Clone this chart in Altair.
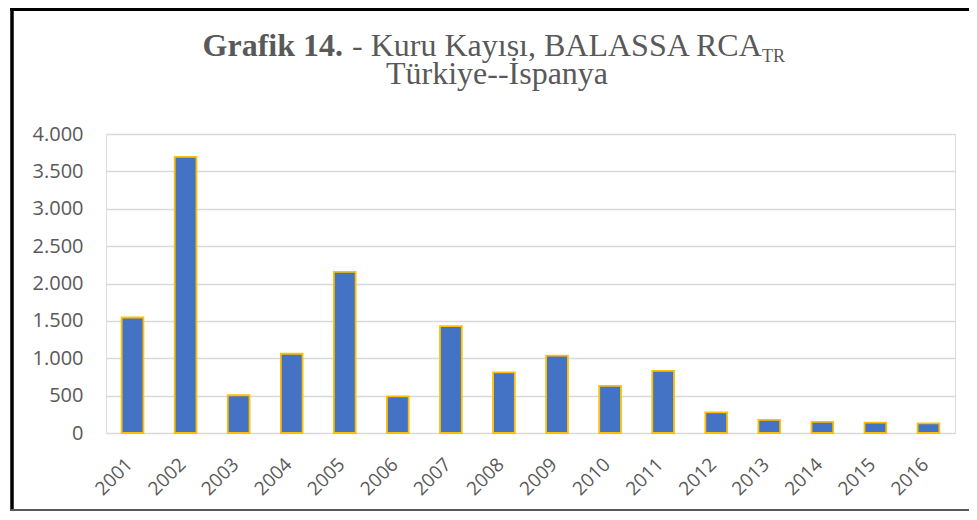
import altair as alt
import pandas as pd

years = ["2001", "2002", "2003", "2004", "2005", "2006", "2007", "2008",
         "2009", "2010", "2011", "2012", "2013", "2014", "2015", "2016"]
rca = [1545, 3695, 505, 1060, 2155, 490, 1430, 810,
       1035, 630, 830, 275, 175, 150, 140, 128]
y_ticks = [0, 500, 1000, 1500, 2000, 2500, 3000, 3500, 4000]

title_bold = "Grafik 14."
title_main = "- Kuru Kayısı, BALASSA RCA"
title_sub = "TR"
title_line2 = "Türkiye--İspanya"

df = pd.DataFrame({"year": years, "rca": rca})
one = pd.DataFrame({"k": [0]})

PW, PH = 849, 299
GREY = "#595959"
SERIF = "Liberation Serif"
SANS = "Open Sans"

bars = alt.Chart(df).mark_bar(
    color="#4472C4", stroke="#FFC000", strokeWidth=1.8
).encode(
    x=alt.X("year:N", sort=years,
            scale=alt.Scale(paddingInner=0.59, paddingOuter=0.295),
            axis=alt.Axis(title=None, labelAngle=-45, labelAlign="right",
                          labelBaseline="middle", labelFont=SANS,
                          labelFontSize=19, labelColor=GREY, ticks=False,
                          domain=False, grid=False, labelPadding=28,
                          labelOffset=-3)),
    y=alt.Y("rca:Q", scale=alt.Scale(domain=[0, 4000], nice=False),
            axis=alt.Axis(title=None, values=y_ticks,
                          labelExpr="replace(format(datum.value, ','), ',', '.')",
                          ticks=False, domain=False, gridColor="#D9D9D9",
                          gridWidth=1.5, labelPadding=23, labelFont=SANS,
                          labelFontSize=20, labelColor=GREY)),
)

t_bold = alt.Chart(one).mark_text(
    font=SERIF, fontSize=32, fontWeight="bold", color=GREY,
    align="right", baseline="alphabetic"
).encode(x=alt.value(237), y=alt.value(-78), text=alt.value(title_bold))

t_main = alt.Chart(one).mark_text(
    font=SERIF, fontSize=32, color=GREY, align="left", baseline="alphabetic"
).encode(x=alt.value(246), y=alt.value(-78), text=alt.value(title_main))

t_sub = alt.Chart(one).mark_text(
    font=SERIF, fontSize=18, color=GREY, align="left", baseline="alphabetic"
).encode(x=alt.value(656), y=alt.value(-72), text=alt.value(title_sub))

t_line2 = alt.Chart(one).mark_text(
    font=SERIF, fontSize=32, color=GREY, align="center", baseline="alphabetic"
).encode(x=alt.value(391), y=alt.value(-50), text=alt.value(title_line2))

frame_left = alt.Chart(one).mark_rule(color="black", strokeWidth=3.5).encode(
    x=alt.value(-94), y=alt.value(-126), y2=alt.value(378))
frame_top = alt.Chart(one).mark_rule(color="black", strokeWidth=3).encode(
    x=alt.value(-96), x2=alt.value(880), y=alt.value(-124.5))
frame_bottom = alt.Chart(one).mark_rule(color="#595959", strokeWidth=2).encode(
    x=alt.value(-96), x2=alt.value(880), y=alt.value(376))

chart = alt.layer(
    bars, t_bold, t_main, t_sub, t_line2, frame_left, frame_top, frame_bottom
).properties(
    width=PW, height=PH,
    autosize=alt.AutoSizeParams(type="none"),
    padding={"left": 98, "top": 126, "right": 14, "bottom": 78},
).configure_view(stroke=None).configure(background="white")

chart.save("out.html", embed_options={"renderer": "svg", "actions": False})
